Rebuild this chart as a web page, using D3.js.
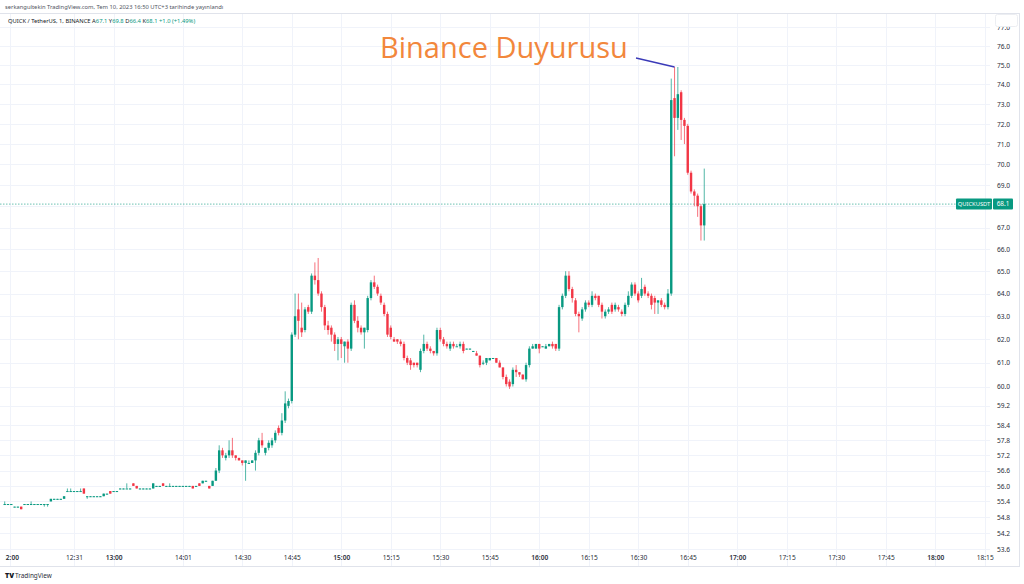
<!DOCTYPE html>
<html><head><meta charset="utf-8">
<script src="https://cdn.jsdelivr.net/npm/d3@7"></script>
<style>html,body{margin:0;padding:0;background:#fff;overflow:hidden}</style>
</head><body><svg id="c" width="1024" height="584"></svg>
<script>
// ---- DATA (1-minute candles QUICK/USDT) ----
const opens = [55.3,55.3,55.3,55.2,55.2,55.2,55.3,55.3,55.3,55.3,55.3,55.3,55.3,55.3,55.4,55.5,55.5,55.5,55.5,55.8,
55.8,55.8,55.8,55.8,55.9,55.6,55.6,55.6,55.6,55.6,55.6,55.7,55.8,55.8,55.8,55.9,55.9,55.9,55.9,56.1,
56.0,55.9,55.9,55.9,55.9,55.9,56.0,56.0,56.1,56.0,56.0,56.0,56.0,56.0,56.0,56.0,56.0,56.0,56.0,56.1,
56.1,56.2,56.0,56.0,56.2,56.6,57.4,57.1,57.2,57.4,57.2,57.1,57.0,56.9,56.9,56.9,57.0,57.3,57.8,57.3,
57.5,57.6,57.8,58.3,58.1,58.6,59.2,59.4,62.2,63.3,62.5,62.4,63.4,63.2,64.8,64.6,64.0,63.4,62.6,62.5,
62.2,61.8,62.0,61.7,61.9,61.6,63.5,62.8,62.5,62.3,62.4,63.8,64.5,64.3,63.9,63.5,63.1,62.5,62.0,62.0,
61.9,61.8,61.2,61.1,61.0,61.0,60.7,61.5,61.8,61.6,61.5,61.4,62.4,62.0,61.8,61.6,61.8,61.7,61.7,61.8,
61.6,61.6,61.5,61.4,61.3,61.0,61.0,61.1,61.2,61.2,61.0,60.8,60.4,60.2,60.1,60.7,60.6,60.5,60.3,60.9,
61.6,61.6,61.8,61.7,61.6,61.7,61.8,61.8,61.6,63.4,63.9,64.8,64.2,63.7,63.1,62.9,63.3,63.6,63.5,63.9,
63.9,63.5,63.0,63.2,63.5,63.3,63.4,63.2,63.1,63.5,63.9,64.4,64.0,63.9,64.3,64.0,63.9,63.8,63.6,63.7,
63.5,63.4,64.0,73.3,72.3,73.6,72.2,71.9,69.6,68.7,68.5,68.0,67.1];
const highs = [55.4,55.3,55.3,55.2,55.2,55.2,55.3,55.3,55.4,55.3,55.3,55.3,55.3,55.3,55.5,55.5,55.5,55.5,55.6,55.9,
55.9,55.8,55.8,55.9,55.9,55.6,55.6,55.6,55.6,55.6,55.7,55.7,55.8,55.8,55.8,55.9,55.9,56.1,55.9,56.1,
56.0,55.9,55.9,55.9,55.9,56.1,56.0,56.0,56.1,56.0,56.1,56.0,56.0,56.0,56.0,56.0,56.0,56.0,56.0,56.1,
56.2,56.2,56.0,56.2,56.7,57.6,57.5,57.3,57.8,57.9,57.2,57.1,57.0,57.0,57.0,57.0,57.4,57.9,58.1,57.5,
57.8,57.9,58.2,58.4,58.9,59.8,59.5,62.3,64.0,64.0,63.6,63.4,63.5,64.9,65.4,65.6,64.1,63.5,62.8,62.6,
62.3,62.1,62.1,61.9,62.0,63.6,63.7,63.0,62.6,62.5,63.9,64.6,64.8,64.4,64.0,63.6,63.2,62.6,62.1,62.0,
62.0,61.9,61.3,61.2,61.0,61.0,61.6,62.2,61.9,61.7,61.5,62.5,62.5,62.1,61.9,61.9,61.9,61.8,61.9,61.9,
61.6,61.6,61.5,61.5,61.3,61.1,61.2,61.2,61.2,61.2,61.1,60.8,60.5,60.3,60.8,60.9,60.6,60.5,61.0,61.7,
61.8,61.8,61.8,61.7,61.8,61.8,61.9,61.8,63.5,64.0,65.0,65.0,64.3,63.8,63.2,63.4,63.7,63.7,64.1,64.0,
63.9,63.6,63.3,63.4,63.6,63.6,63.5,63.3,63.6,64.1,64.5,64.5,64.1,64.7,64.4,64.1,64.0,63.9,63.7,63.8,
63.6,64.2,74.3,74.9,74.9,73.7,72.3,72.0,69.7,68.8,68.6,68.1,69.8];
const lows = [55.3,55.3,55.3,55.2,55.2,55.1,55.3,55.3,55.3,55.3,55.3,55.3,55.2,55.2,55.4,55.5,55.5,55.5,55.5,55.8,
55.8,55.8,55.8,55.8,55.7,55.5,55.6,55.6,55.6,55.6,55.6,55.7,55.7,55.8,55.8,55.9,55.9,55.9,55.9,56.0,
55.9,55.9,55.9,55.9,55.9,55.9,56.0,56.0,56.0,56.0,56.0,56.0,56.0,56.0,56.0,56.0,56.0,55.9,56.0,56.0,
56.1,56.2,55.9,56.0,56.2,56.5,57.1,57.0,57.1,57.1,57.0,57.0,56.8,56.2,56.9,56.9,56.6,57.2,57.5,57.2,
57.4,57.5,57.7,58.0,58.0,58.5,59.1,59.3,62.1,62.0,62.1,62.3,63.1,63.1,64.4,63.9,63.2,62.4,62.2,61.9,
61.5,61.1,61.2,61.0,61.0,61.5,62.7,62.3,62.2,61.6,62.3,63.7,64.2,63.9,63.5,63.0,62.1,62.0,61.9,61.8,
61.7,61.1,60.9,60.7,60.8,60.8,60.6,61.4,61.5,61.4,61.3,61.3,61.9,61.7,61.6,61.5,61.6,61.7,61.6,61.4,
61.6,61.6,61.5,61.3,60.8,60.9,60.9,61.1,61.2,61.0,60.8,60.3,60.0,59.9,60.0,60.4,60.4,60.3,60.2,60.8,
61.6,61.6,61.4,61.7,61.6,61.7,61.6,61.5,61.5,63.3,63.8,64.1,63.6,63.0,62.3,62.8,63.2,63.4,63.4,63.7,
63.4,62.9,62.9,63.1,63.1,63.2,63.2,63.0,63.0,63.4,63.8,63.9,63.6,63.8,63.9,63.8,63.3,63.1,63.1,63.4,
63.3,63.3,63.9,70.4,71.7,71.2,71.0,69.5,68.6,68.0,67.5,66.4,66.4];
const closes = [55.3,55.3,55.3,55.2,55.2,55.1,55.3,55.3,55.3,55.3,55.3,55.3,55.3,55.3,55.5,55.5,55.5,55.5,55.6,55.8,
55.8,55.8,55.8,55.8,55.7,55.6,55.6,55.6,55.6,55.6,55.7,55.7,55.7,55.8,55.8,55.9,55.9,55.9,55.9,56.0,
55.9,55.9,55.9,55.9,55.9,56.1,56.0,56.0,56.0,56.0,56.0,56.0,56.0,56.0,56.0,56.0,56.0,55.9,56.0,56.0,
56.2,56.2,55.9,56.2,56.6,57.4,57.2,57.2,57.4,57.2,57.1,57.0,56.9,57.0,56.9,57.0,57.3,57.8,57.6,57.5,
57.7,57.8,58.1,58.1,58.6,59.3,59.4,62.2,63.0,62.8,62.3,63.3,63.2,64.8,64.6,64.0,63.4,62.6,62.4,62.2,
61.8,62.0,61.8,61.9,61.6,63.5,62.8,62.5,62.3,62.5,63.8,64.5,64.3,64.0,63.6,63.1,62.2,62.1,61.9,61.9,
61.8,61.2,61.0,60.9,60.9,60.9,61.5,61.8,61.6,61.5,61.4,62.4,62.0,61.8,61.7,61.8,61.7,61.7,61.8,61.5,
61.6,61.6,61.5,61.3,60.9,61.0,61.2,61.2,61.2,61.0,60.8,60.4,60.1,60.0,60.7,60.6,60.5,60.3,60.9,61.6,
61.7,61.8,61.6,61.7,61.7,61.8,61.7,61.6,63.4,63.9,64.8,64.2,63.8,63.1,63.0,63.3,63.6,63.5,63.9,63.8,
63.5,63.2,63.2,63.3,63.2,63.5,63.3,63.1,63.5,63.9,64.4,64.0,63.7,64.2,64.0,63.9,63.5,63.6,63.7,63.5,
63.4,64.0,73.2,72.3,73.5,72.2,71.9,69.6,68.7,68.5,68.0,67.1,68.1];
const timeTickIndex = [1.6,21,33,54,72,87,102,117,132,147,162,177,192,207,222,237,252,267,282,297];
const timeTickLabels = ["12:00","12:31","13:00","14:01","14:30","14:45","15:00","15:15","15:30","15:45","16:00","16:15","16:30","16:45","17:00","17:15","17:30","17:45","18:00","18:15"];
const priceTicks = [77,76,75,74,73,72,71,70,69,67,66,65,64,63,62,61,60,59.2,58.4,57.8,57.2,56.6,56.0,55.4,54.8,54.2,53.6];
const lastPrice = 68.1;
const annotation = {text:"Binance Duyurusu", barIndex:203, price:74.9};

// ---- CHART ----
const svg = d3.select("#c");
const font = "'Noto Sans', 'Liberation Sans', Arial, sans-serif";
const plotR = 990, plotT = 14, plotB = 566;
const x = d3.scaleLinear().domain([-1.424, 298.6]).range([0, plotR]);
const y = d3.scaleLog().domain([53.6, 76]).range([549, 46]);
const up = "#089981", down = "#f23645";
const data = opens.map((o,i)=>({i, o, h:highs[i], l:lows[i], c:closes[i]}));

// clip for time labels (in the axis group's own coordinates)
svg.append("defs").append("clipPath").attr("id","tclip").append("rect")
  .attr("x",5).attr("y",-5).attr("width",1019).attr("height",20);

// grid
const g = svg.append("g");
g.selectAll("line.hg").data(priceTicks.concat([68])).join("line")
  .attr("x1",0).attr("x2",plotR).attr("y1",d=>Math.round(y(d))+0.5).attr("y2",d=>Math.round(y(d))+0.5)
  .attr("stroke","#f0f3fa").attr("stroke-width",1);
g.selectAll("line.vg").data(timeTickIndex).join("line")
  .attr("y1",plotT).attr("y2",plotB).attr("x1",d=>Math.round(x(d))+0.5).attr("x2",d=>Math.round(x(d))+0.5)
  .attr("stroke","#f0f3fa").attr("stroke-width",1);

// frame lines
svg.append("line").attr("x1",0).attr("x2",1019).attr("y1",13.5).attr("y2",13.5).attr("stroke","#e0e3eb");
svg.append("line").attr("x1",0).attr("x2",1019).attr("y1",566.5).attr("y2",566.5).attr("stroke","#e0e3eb");
svg.append("line").attr("x1",1019.5).attr("x2",1019.5).attr("y1",13).attr("y2",567).attr("stroke","#e0e3eb");

// last price line
svg.append("line").attr("x1",0).attr("x2",956).attr("y1",y(lastPrice)).attr("y2",y(lastPrice))
  .attr("stroke",up).attr("stroke-width",0.7).attr("stroke-dasharray","1.5,1.5").attr("opacity",0.85);

// candles
const bw = 2.4;
const cg = svg.append("g");
cg.selectAll("rect.w").data(data).join("rect")
  .attr("x",d=>x(d.i)-0.5).attr("width",1)
  .attr("y",d=>y(d.h)).attr("height",d=>Math.max(0.8,y(d.l)-y(d.h)))
  .attr("fill",d=>d.c>=d.o?up:down).attr("opacity",0.7);
cg.selectAll("rect.b").data(data).join("rect")
  .attr("x",d=>x(d.i)-bw/2).attr("width",bw)
  .attr("y",d=>y(Math.max(d.o,d.c))).attr("height",d=>Math.max(1,Math.abs(y(d.o)-y(d.c))))
  .attr("fill",d=>d.c>=d.o?up:down);

// price axis
const ya = svg.append("g").attr("transform","translate(993,0)")
  .call(d3.axisRight(y).tickValues(priceTicks).tickFormat(d3.format(".1f")).tickSize(0).tickPadding(4));
ya.select(".domain").remove();
ya.selectAll("text").attr("font-family",font).attr("font-size",6.6).attr("fill","#2a2e39");

// time axis
const xa = svg.append("g").attr("transform","translate(0,553)").attr("clip-path","url(#tclip)")
  .call(d3.axisBottom(x).tickValues(timeTickIndex).tickFormat((d,i)=>timeTickLabels[i]).tickSize(0).tickPadding(2));
xa.select(".domain").remove();
xa.selectAll("text").attr("font-family",font).attr("font-size",6.6).attr("fill","#2a2e39")
  .attr("font-weight",(d,i)=>timeTickLabels[i].endsWith(":00")?600:400);

// last price label
const ly = y(lastPrice);
svg.append("rect").attr("x",956).attr("y",ly-5.5).attr("width",36).attr("height",11).attr("fill",up).attr("rx",1);
svg.append("rect").attr("x",993).attr("y",ly-5.5).attr("width",20).attr("height",11).attr("fill",up).attr("rx",1);
svg.append("text").attr("x",974).attr("y",ly+2.3).attr("text-anchor","middle").attr("font-family",font)
  .attr("font-size",5.8).attr("fill","#fff").text("QUICKUSDT");
svg.append("text").attr("x",1003).attr("y",ly+2.3).attr("text-anchor","middle").attr("font-family",font)
  .attr("font-size",6.4).attr("fill","#fff").text(d3.format(".1f")(lastPrice));

// top-right small box
svg.append("rect").attr("x",995.5).attr("y",14.5).attr("width",22).attr("height",12).attr("rx",2)
  .attr("fill","#fff").attr("stroke","#eceef2");

// header texts
svg.append("text").attr("x",5).attr("y",9).attr("font-family",font).attr("font-size",5.8).attr("fill","#50535e")
  .text("serkangultekin TradingView.com, Tem 10, 2023 16:50 UTC+3 tarihinde yayınlandı");
const leg = svg.append("text").attr("x",8).attr("y",23).attr("font-family",font).attr("font-size",5.8).attr("fill","#131722");
leg.append("tspan").text("QUICK / TetherUS, 1, BINANCE  ");
const last = data[data.length-1];
[["A",last.o],["Y",last.h],["D",last.l],["K",last.c]].forEach(([k,v])=>{
  leg.append("tspan").attr("fill","#131722").text(" "+k);
  leg.append("tspan").attr("fill",up).text(d3.format(".1f")(v));
});
const prev = data[data.length-2].c;
leg.append("tspan").attr("fill",up).text(" +"+(last.c-prev).toFixed(1)+" (+"+((last.c-prev)/prev*100).toFixed(2)+"%)");

// annotation
svg.append("text").attr("x",380).attr("y",58).attr("font-family","'Open Sans', 'Noto Sans', sans-serif")
  .attr("font-size",29).attr("fill","#f2873c").text(annotation.text);
svg.append("line").attr("x1",636).attr("y1",58).attr("x2",x(annotation.barIndex)).attr("y2",y(annotation.price))
  .attr("stroke","#3a3ab8").attr("stroke-width",1.3);

// footer logo
svg.append("text").attr("x",5).attr("y",578).attr("font-family",font).attr("font-size",7).attr("font-weight",900)
  .attr("fill","#131722").text("TV");
svg.append("text").attr("x",15).attr("y",578).attr("font-family",font).attr("font-size",6.4)
  .attr("fill","#2a2e39").text("TradingView");
</script>
</body></html>
